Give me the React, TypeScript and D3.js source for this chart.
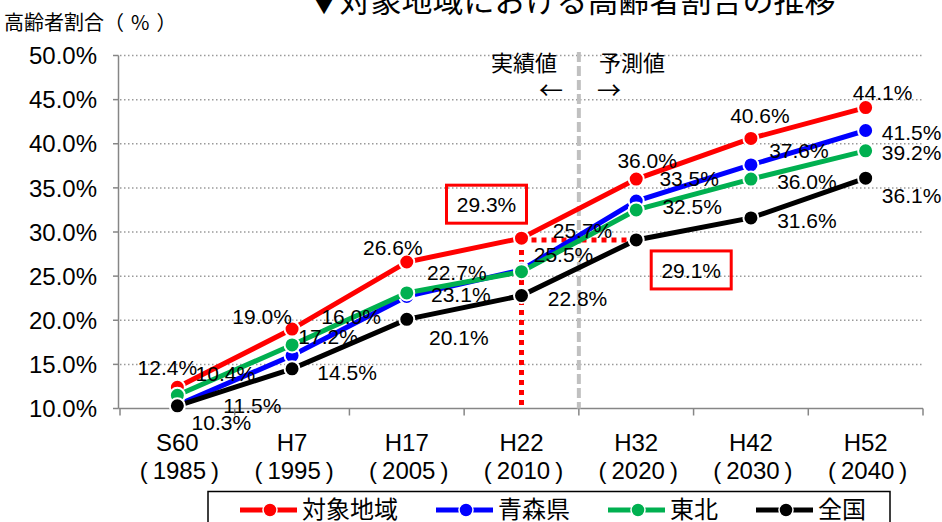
import * as d3 from "d3";
import React from "react";

const categories = ["S60", "H7", "H17", "H22", "H32", "H42", "H52"];
const years = ["1985", "1995", "2005", "2010", "2020", "2030", "2040"];

const target = [12.4, 19.0, 26.6, 29.3, 36.0, 40.6, 44.1];   // 対象地域
const aomori = [10.4, 16.0, 22.7, 25.7, 33.5, 37.6, 41.5];   // 青森県
const tohoku = [11.5, 17.2, 23.1, 25.5, 32.5, 36.0, 39.2];   // 東北
const national = [10.3, 14.5, 20.1, 22.8, 29.1, 31.6, 36.1]; // 全国

const yTicks = [10, 15, 20, 25, 30, 35, 40, 45, 50];

// where each data label sits relative to its point (px); null = shown in a boxed callout
const targetLabelPos = [[-10, -20], [-30, -13], [-14, -15], null, [11, -19], [9, -23], [17, -15]];
const aomoriLabelPos = [[48, -32], [59, -39], [50, -24], [61, -40], [53, -23], [48, -14], [46, 2]];
const tohokuLabelPos = [[75, 10], [36, -9], [54, 2], [42, -17], [56, -3], [56, 2], [46, 2]];
const nationalLabelPos = [[44, 17], [55, 4], [52, 18], [56, 3], null, [56, 3], [46, 17]];

const series = [
  { name: "対象地域", values: target, color: "#ff0000", labels: targetLabelPos },
  { name: "青森県", values: aomori, color: "#0000ff", labels: aomoriLabelPos },
  { name: "東北", values: tohoku, color: "#00b050", labels: tohokuLabelPos },
  { name: "全国", values: national, color: "#000000", labels: nationalLabelPos },
];

const W = 942, H = 522;
const left = 120, right = 923, top = 55.5, bottom = 408.5;

const NUM_FONT = "'Liberation Sans', Arial, 'Noto Sans CJK JP', sans-serif";
const JP_FONT = "'Noto Sans CJK JP', 'Noto Sans', sans-serif";

export default function App() {
  const x = d3.scalePoint().domain(categories).range([left, right]).padding(0.5);
  const y = d3.scaleLinear().domain([10, 50]).range([bottom, top]);
  const step = x.step();

  const line = d3.line<number>()
    .x((_v, i) => x(categories[i])!)
    .y((v) => y(v));

  const xi = (i: number) => x(categories[i])!;
  const divider = (xi(3) + xi(4)) / 2;

  // callouts: target at H22, national at H32
  const callouts = [
    { cx: xi(3) - 35, cy: y(target[3]) - 34, text: target[3].toFixed(1) + "%" },
    { cx: xi(4) + 55, cy: y(national[4]) + 30, text: national[4].toFixed(1) + "%" },
  ];

  // legend layout
  let lx = 240;
  const legendItems = series.map((s) => {
    const item = { ...s, x0: lx };
    lx += 57 + 5 + s.name.length * 24 + 38;
    return item;
  });

  return (
    <svg width={W} height={H} style={{ position: "absolute", left: 0, top: 0, background: "#fff" }}>
      {/* titles */}
      <text x={572} y={12} textAnchor="middle" fontFamily={JP_FONT} fontSize={31} fill="#000">
        ▼対象地域における高齢者割合の推移
      </text>
      <text x={4} y={30} fontFamily={JP_FONT} fontSize={20} fill="#000">
        高齢者割合<tspan letterSpacing={7}>（%）</tspan>
      </text>

      {/* grid */}
      {yTicks.slice(1).map((t) => (
        <line key={t} x1={left} x2={right} y1={y(t)} y2={y(t)}
          stroke="#9a9a9a" strokeWidth={1.5} strokeDasharray="1.5 2.5" />
      ))}

      {/* axes */}
      <line x1={left - 1.5} x2={left - 1.5} y1={top} y2={bottom} stroke="#868686" strokeWidth={1.5} />
      <line x1={left - 1.5} x2={right} y1={bottom} y2={bottom} stroke="#868686" strokeWidth={1.5} />
      {yTicks.map((t) => (
        <g key={t}>
          <line x1={left - 7} x2={left - 1.5} y1={y(t)} y2={y(t)} stroke="#868686" strokeWidth={1.5} />
          <text x={97} y={y(t)} dy="0.36em" textAnchor="end" fontFamily={NUM_FONT} fontSize={24} fill="#000">
            {t.toFixed(1)}%
          </text>
        </g>
      ))}
      {d3.range(categories.length + 1).map((i) => (
        <line key={i} x1={left + i * step} x2={left + i * step} y1={bottom} y2={bottom + 7}
          stroke="#868686" strokeWidth={1.5} />
      ))}
      {categories.map((c, i) => (
        <g key={c} fontFamily={NUM_FONT} fontSize={24} fill="#000" textAnchor="middle">
          <text x={xi(i)} y={451}>{c}</text>
          <text x={xi(i) + 2} y={479}>
            <tspan>(</tspan><tspan dx={5}>{years[i]}</tspan><tspan dx={5}>)</tspan>
          </text>
        </g>
      ))}

      {/* actual / forecast divider */}
      <line x1={divider} x2={divider} y1={52} y2={bottom} stroke="#c0c0c0" strokeWidth={4} strokeDasharray="10 4" />
      <text x={491} y={71} fontFamily={JP_FONT} fontSize={22} fill="#000">実績値</text>
      <text x={599} y={71} fontFamily={JP_FONT} fontSize={22} fill="#000">予測値</text>
      <text x={551} y={99} textAnchor="middle" fontFamily={JP_FONT} fontSize={24} fill="#000">←</text>
      <text x={609} y={99} textAnchor="middle" fontFamily={JP_FONT} fontSize={24} fill="#000">→</text>

      {/* red dotted guides */}
      <line x1={xi(3)} x2={xi(4)} y1={y(national[4])} y2={y(national[4])}
        stroke="#ff0000" strokeWidth={5} strokeDasharray="5 5" />
      <line x1={xi(3)} x2={xi(3)} y1={y(national[4])} y2={bottom}
        stroke="#ff0000" strokeWidth={5} strokeDasharray="5 5" />

      {/* series */}
      {series.map((s) => (
        <g key={s.name}>
          <path d={line(s.values) || ""} fill="none" stroke={s.color} strokeWidth={5} />
          {s.values.map((v, i) => (
            <circle key={i} cx={xi(i)} cy={y(v)} r={7.5} fill={s.color} stroke="#fff" strokeWidth={2} />
          ))}
        </g>
      ))}

      {/* data labels */}
      {series.map((s) => s.values.map((v, i) => {
        const p = s.labels[i];
        if (!p) return null;
        return (
          <text key={s.name + i} x={xi(i) + p[0]} y={y(v) + p[1]} dy="0.36em" textAnchor="middle"
            fontFamily={NUM_FONT} fontSize={21} fill="#000">
            {v.toFixed(1)}%
          </text>
        );
      }))}

      {/* callout boxes */}
      {callouts.map((c) => (
        <g key={c.text}>
          <rect x={c.cx - 40} y={c.cy - 19} width={80} height={38} fill="none" stroke="#ff0000" strokeWidth={3} />
          <text x={c.cx} y={c.cy} dy="0.36em" textAnchor="middle" fontFamily={NUM_FONT} fontSize={21} fill="#000">
            {c.text}
          </text>
        </g>
      ))}

      {/* legend */}
      <rect x={208} y={491.5} width={682} height={45} fill="#fff" stroke="#000" strokeWidth={1.5} />
      {legendItems.map((s) => (
        <g key={s.name}>
          <line x1={s.x0} x2={s.x0 + 57} y1={510} y2={510} stroke={s.color} strokeWidth={5} />
          <circle cx={s.x0 + 30} cy={510} r={7} fill={s.color} stroke="#fff" strokeWidth={1.5} />
          <text x={s.x0 + 62} y={518} fontFamily={JP_FONT} fontSize={24} fill="#000">{s.name}</text>
        </g>
      ))}
    </svg>
  );
}
